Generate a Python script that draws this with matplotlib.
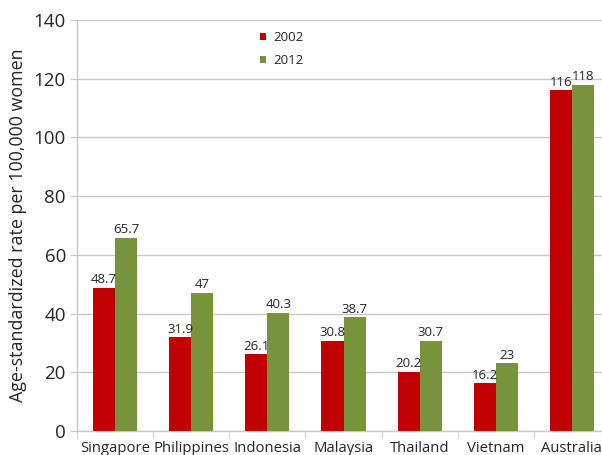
import numpy as np
import matplotlib.pyplot as plt

plt.rcParams['font.family'] = ['Open Sans', 'DejaVu Sans']

countries = ['Singapore', 'Philippines', 'Indonesia', 'Malaysia', 'Thailand', 'Vietnam', 'Australia']
rate_2002 = [48.7, 31.9, 26.1, 30.8, 20.2, 16.2, 116]
rate_2012 = [65.7, 47, 40.3, 38.7, 30.7, 23, 118]
labels_2002 = ['48.7', '31.9', '26.1', '30.8', '20.2', '16.2', '116']
labels_2012 = ['65.7', '47', '40.3', '38.7', '30.7', '23', '118']

red = '#C00000'
green = '#77933C'
grid_col = '#C8C8C8'
text_col = '#262626'

fig = plt.figure(figsize=(6.02, 4.55), dpi=100)
# axes runs slightly past the right edge, like the cropped original
ax = fig.add_axes([77 / 602, 24 / 455, 533 / 602, 411 / 455])

x = np.arange(len(countries))
w = 0.29
b1 = ax.bar(x - w / 2, rate_2002, w, color=red, label='2002', zorder=3)
b2 = ax.bar(x + w / 2, rate_2012, w, color=green, label='2012', zorder=3)

for rect, lab in zip(b1, labels_2002):
    ax.text(rect.get_x() + rect.get_width() / 2, rect.get_height() + 0.6, lab,
            ha='center', va='bottom', fontsize=9.5, color=text_col, zorder=4)
for rect, lab in zip(b2, labels_2012):
    ax.text(rect.get_x() + rect.get_width() / 2, rect.get_height() + 0.6, lab,
            ha='center', va='bottom', fontsize=9.5, color=text_col, zorder=4)

ax.set_xlim(-0.5, len(countries) - 0.5)
ax.set_ylim(0, 140)
ax.set_yticks(np.arange(0, 141, 20))
ax.yaxis.grid(True, color=grid_col, linewidth=1, zorder=0)

ax.set_xticks(x)
ax.set_xticklabels(countries)
ax.set_xticks(np.arange(-0.5, len(countries), 1), minor=True)
ax.tick_params(axis='x', which='major', length=0, pad=7, labelsize=10.7, labelcolor=text_col)
ax.tick_params(axis='x', which='minor', length=5, color=grid_col, direction='out')
ax.tick_params(axis='y', length=5, color=grid_col, labelsize=13.5, labelcolor=text_col, pad=3)

for s in ['top', 'right']:
    ax.spines[s].set_visible(False)
for s in ['left', 'bottom']:
    ax.spines[s].set_color(grid_col)
    ax.spines[s].set_linewidth(1)

ax.set_ylabel('Age-standardized rate per 100,000 women', fontsize=12.9, color=text_col, labelpad=5)

ax.legend(loc='upper left', bbox_to_anchor=(248 / 602, 1 - 19 / 455), bbox_transform=fig.transFigure,
          frameon=False, fontsize=9.5, handlelength=0.45, handleheight=0.45, handletextpad=0.6,
          labelspacing=0.75, labelcolor=text_col)

fig.savefig('out.png', dpi=100)
